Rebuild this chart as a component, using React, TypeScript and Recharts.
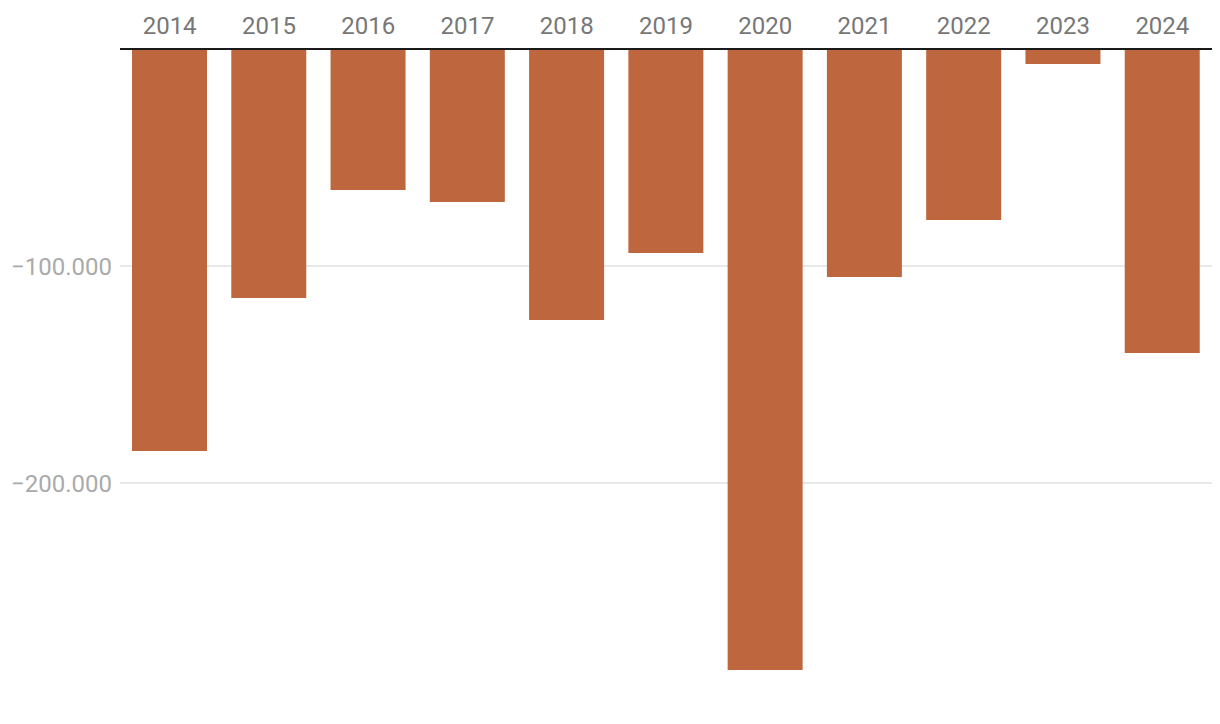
import React from 'react';
import { BarChart, Bar, XAxis, YAxis, CartesianGrid } from 'recharts';

const years = ['2014', '2015', '2016', '2017', '2018', '2019', '2020', '2021', '2022', '2023', '2024'];
const balance = [-185300, -114700, -65000, -70500, -124900, -94000, -286200, -105100, -78800, -6900, -140100];
const yTicks = [-100000, -200000];

const data = years.map((year, i) => ({ year, value: balance[i] }));

const fmt = (v: number) =>
  (v < 0 ? '\u2212' : '') + Math.abs(v).toString().replace(/\B(?=(\d{3})+(?!\d))/g, '.');

const App = () => (
  <BarChart
    width={1204}
    height={700}
    data={data}
    margin={{ top: 0, right: 0, bottom: 8, left: 0 }}
    barSize={75}
    style={{ fontFamily: 'Roboto, sans-serif' }}
  >
    <CartesianGrid vertical={false} horizontalValues={yTicks} stroke="#e0e0e0" strokeWidth={1.5} />
    <XAxis
      dataKey="year"
      orientation="top"
      height={41}
      tickLine={false}
      tickMargin={9}
      axisLine={{ stroke: '#1a1a1a', strokeWidth: 2 }}
      tick={{ fill: '#777777', fontSize: 24 }}
      interval={0}
    />
    <YAxis
      width={112}
      domain={[-300000, 0]}
      ticks={yTicks}
      tickFormatter={fmt}
      axisLine={false}
      tickLine={false}
      tickMargin={2}
      tick={{ fill: '#aaaaaa', fontSize: 24 }}
    />
    <Bar dataKey="value" fill="#be673f" isAnimationActive={false} />
  </BarChart>
);

export default App;
